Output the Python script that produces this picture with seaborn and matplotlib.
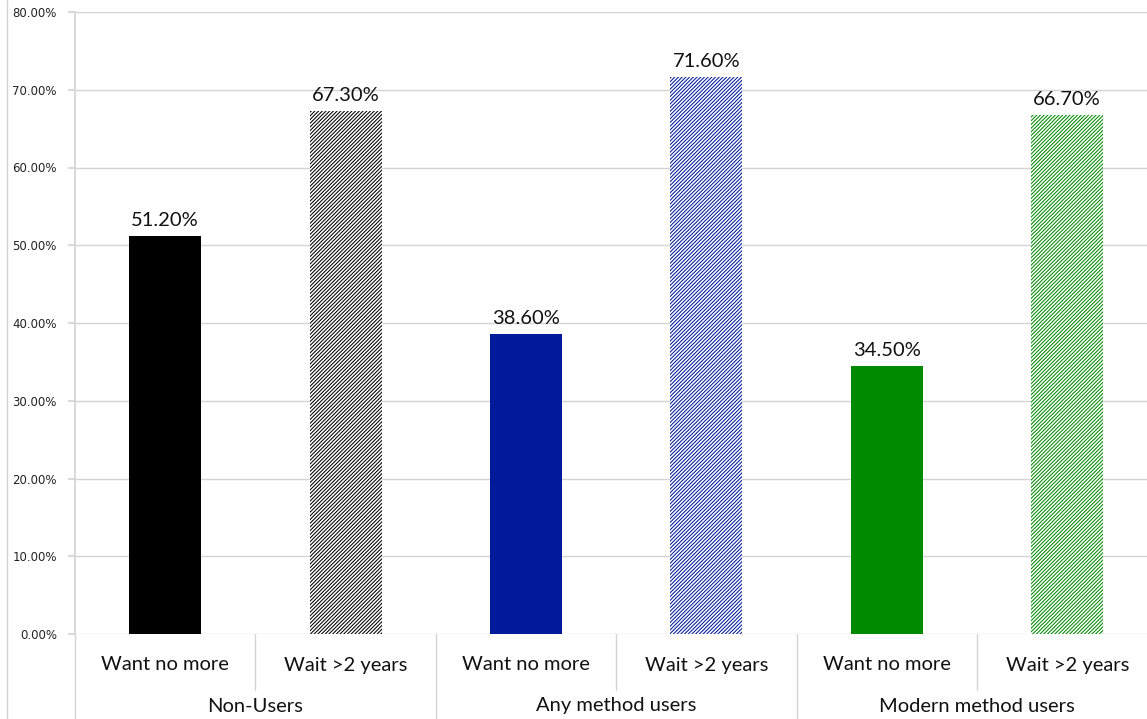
import matplotlib
matplotlib.use('Agg')
import matplotlib.pyplot as plt
import seaborn as sns
import pandas as pd
from matplotlib.lines import Line2D

groups = ["Non-Users", "Any method users", "Modern method users"]
subcats = ["Want no more", "Wait >2 years"]
values = [51.2, 67.3, 38.6, 71.6, 34.5, 66.7]
colors = ["#000000", "#000000", "#001A9C", "#001A9C", "#008A00", "#008A00"]
hatched = [False, True, False, True, False, True]

slots = [f"{g}|{s}" for g in groups for s in subcats]
df = pd.DataFrame({"slot": slots, "value": values})

sns.set_theme(style="white")
plt.rcParams['hatch.linewidth'] = 0.75
W, H = 1147, 719
fig = plt.figure(figsize=(W / 100, H / 100), dpi=100)
ax = fig.add_axes([75 / W, 85 / H, 1 - 75 / W, (634 - 12) / H])

sns.barplot(data=df, x="slot", y="value", hue="slot", palette=colors,
            width=0.4, legend=False, ax=ax, saturation=1)

for p, c, h in zip(ax.patches, colors, hatched):
    if h:
        p.set_facecolor("white")
        p.set_edgecolor(c)
        p.set_hatch("/////////")
        p.set_linewidth(0)
    else:
        p.set_facecolor(c)
        p.set_edgecolor(c)
        p.set_linewidth(0)

for i, v in enumerate(values):
    ax.text(i, v + 0.9, f"{v:.2f}%", ha="center", va="bottom", fontsize=14.5,
            color="#111111", family="Lato")

ax.set_xlim(-0.5, -0.5 + (W - 75) / 180.4)
ax.set_ylim(0, 80)
ax.set_yticks(range(0, 81, 10))
ax.set_yticklabels([f"{t:.2f}%" for t in range(0, 81, 10)], fontsize=8.5,
                   color="#222222")
ax.yaxis.grid(True, color="#d4d4d4", linewidth=1)
ax.tick_params(axis="y", which="both", left=True, length=5, color="#d4d4d4",
               pad=8)
ax.set_xticks([])
ax.set_xlabel("")
ax.set_ylabel("")
for s in ["top", "right", "bottom"]:
    ax.spines[s].set_visible(False)
ax.spines["left"].set_color("#d4d4d4")
ax.set_axisbelow(True)

# category labels and separators
tr = ax.get_xaxis_transform()
for i, s in enumerate(slots):
    ax.text(i, -31 / 622, s.split("|")[1], transform=tr, ha="center",
            va="center", fontsize=14.5, color="#111111", family="Lato")
for gi, g in enumerate(groups):
    ax.text(2 * gi + 0.5, -72 / 622, g, transform=tr, ha="center",
            va="center", fontsize=14.5, color="#111111", family="Lato")
for k in range(6):
    xb = k + 0.5
    bottom = -56 / 622 if k % 2 == 0 else -85 / 622
    ax.add_line(Line2D([xb, xb], [0, bottom], transform=tr, color="#d4d4d4",
                       linewidth=1, clip_on=False))
ax.add_line(Line2D([-0.5, -0.5], [0, -85 / 622], transform=tr,
                   color="#d4d4d4", linewidth=1, clip_on=False))

fig.add_artist(Line2D([7 / W, 7 / W], [0, 1], transform=fig.transFigure,
                      color="#d4d4d4", linewidth=1))

fig.savefig("out.png", dpi=100)
